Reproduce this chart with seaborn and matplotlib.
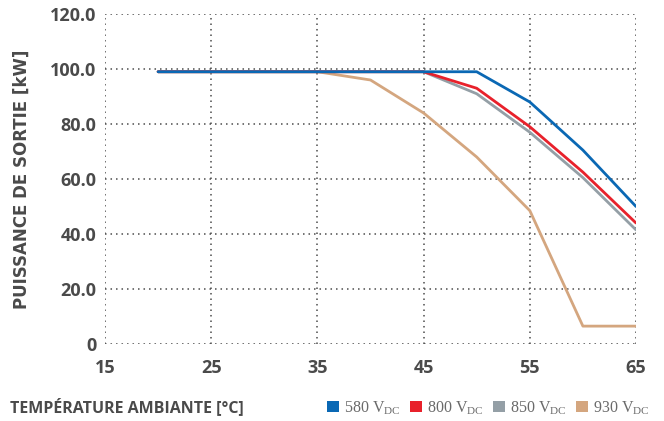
import matplotlib
matplotlib.use("Agg")
import matplotlib.pyplot as plt
from matplotlib import font_manager
from matplotlib.patches import Patch
import seaborn as sns
import pandas as pd

temps = [20, 25, 30, 35, 40, 45, 50, 55, 60, 65]
p580 = [99, 99, 99, 99, 99, 99, 99, 88, 70.5, 50]
p800 = [99, 99, 99, 99, 99, 99, 93, 79, 62.5, 44]
p850 = [99, 99, 99, 99, 99, 99, 91, 77, 60.5, 41.5]
p930 = [99, 99, 99, 99, 96, 84, 68, 48.5, 6.5, 6.5]
series_names = ["580", "800", "850", "930"]
colors = ["#0a68b4", "#e8212b", "#949fa6", "#d4a67f"]
xticks = [15, 25, 35, 45, 55, 65]
yticks = [0, 20, 40, 60, 80, 100, 120]
ytick_labels = ["0", "20.0", "40.0", "60.0", "80.0", "100.0", "120.0"]

rows = []
for name, vals in zip(series_names, [p580, p800, p850, p930]):
    for t, v in zip(temps, vals):
        rows.append({"temp": t, "power": v, "series": name})
df = pd.DataFrame(rows)

sns.set_style("white")
plt.rcParams["font.family"] = ["DejaVu Sans"]
plt.rcParams["mathtext.fontset"] = "custom"
plt.rcParams["mathtext.rm"] = "Liberation Serif"

cond = font_manager.FontProperties(family="Open Sans", weight="bold", stretch="condensed")

fig = plt.figure(figsize=(6.64, 4.21), dpi=100)
ax = fig.add_axes([105 / 664, 77 / 421, 531 / 664, 330 / 421])

draw_order = ["930", "850", "800", "580"]
palette = dict(zip(series_names, colors))
sns.lineplot(data=df, x="temp", y="power", hue="series", hue_order=draw_order,
             palette=palette, linewidth=2.0, legend=False, ax=ax)

ax.set_xlim(15, 65)
ax.set_ylim(0, 120)
ax.set_xticks(xticks)
ax.set_yticks(yticks)
ax.set_yticklabels(ytick_labels)
for s in ax.spines.values():
    s.set_visible(False)
ax.grid(True, which="major", color="#4d4d4d", linestyle=(0, (1, 2.6)), linewidth=1.1)
ax.tick_params(axis="both", length=0, colors="#4a4a4a")
ax.tick_params(axis="x", pad=11)
ax.tick_params(axis="y", pad=6)
for lab in ax.get_xticklabels() + ax.get_yticklabels():
    lab.set_fontproperties(cond)
    lab.set_fontsize(13)
ax.set_xlabel("")
ax.set_ylabel("PUISSANCE DE SORTIE [kW]", fontsize=12, fontweight="bold",
              color="#4a4a4a")
ax.yaxis.set_label_coords(-0.14, 0.5)

fig.text(10 / 664, 1 - 407 / 421, "TEMPÉRATURE AMBIANTE [°C]", fontproperties=cond,
         fontsize=11.5, color="#4a4a4a", va="center", ha="left")

handles = [Patch(facecolor=c, edgecolor="none") for c in colors]
labels = [f"{n} V$_{{\\mathrm{{DC}}}}$" for n in series_names]
fig.legend(handles, labels, loc="center right", bbox_to_anchor=(664 / 664, 1 - 408 / 421),
           ncol=4, frameon=False, handlelength=0.75, handleheight=0.75, handletextpad=0.3,
           columnspacing=0.6, prop={"family": "Liberation Serif", "size": 11.5},
           labelcolor="#6a6a6a")

fig.savefig("out.png", dpi=100)
